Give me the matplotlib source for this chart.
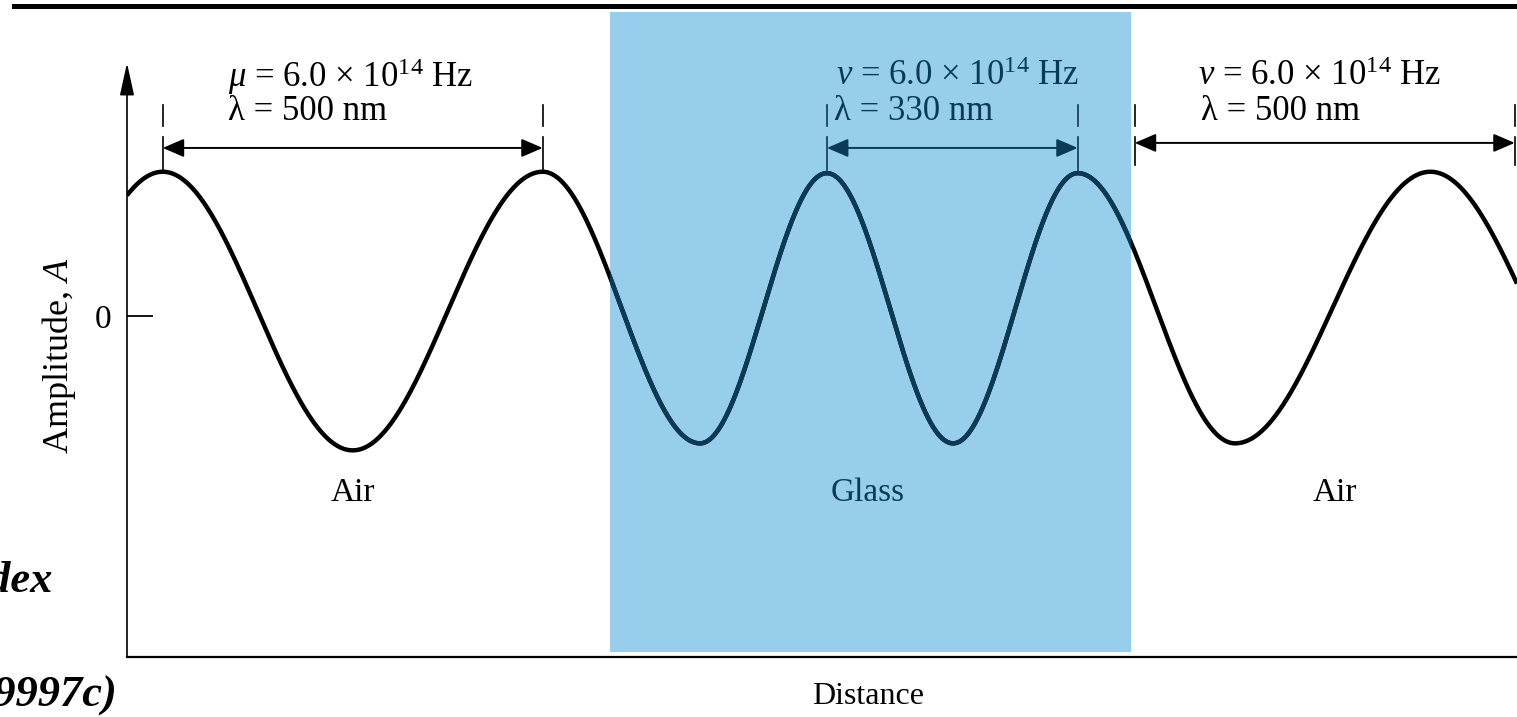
import numpy as np
import matplotlib
matplotlib.use("Agg")
import matplotlib.pyplot as plt
from matplotlib.patches import Rectangle
from matplotlib.lines import Line2D

# Crests / troughs of the wave (distance in nm, amplitude)
crest_x = [47, 297, 547, 754, 921, 1087, 1251, 1458, 1715]
crest_a = [1.03, -0.96, 1.03, -0.91, 1.02, -0.91, 1.02, -0.91, 1.03]

# Glass slab
glass_span = [636, 1321]

# Regions
region_names = ["Air", "Glass", "Air"]
freq_labels = [r"$\mu$ = 6.0 × 10$^{14}$ Hz",
               r"$\nu$ = 6.0 × 10$^{14}$ Hz",
               r"$\nu$ = 6.0 × 10$^{14}$ Hz"]
lambda_labels = ["λ = 500 nm", "λ = 330 nm", "λ = 500 nm"]
wavelengths = [500, 330, 500]
arrow_start = [47, 921, 1326]

# Layout (positions of labels etc.)
xmax = 1829
ylim = (-2.436, 2.171)
region_label_x = [297, 975, 1589]
freq_x = [133, 933, 1409]
lam_x = [133, 930, 1413]
marker_bottom = [1.03, 1.02, 1.08]
arrow_y = [1.2, 1.2, 1.236]

navy = "#0b3a56"
blue = "#97ceec"
colors = ["black", navy, "black"]

plt.rcParams["font.family"] = "Liberation Serif"
plt.rcParams["mathtext.fontset"] = "custom"
plt.rcParams["mathtext.rm"] = "Liberation Serif"
plt.rcParams["mathtext.it"] = "Liberation Serif:italic"
plt.rcParams["mathtext.bf"] = "Liberation Serif:bold"

W, H = 1517, 717
fig = plt.figure(figsize=(W / 100, H / 100), dpi=100)
ax = fig.add_axes([127 / W, (H - 657) / H, (W - 127) / W, (657 - 12) / H])
ax.set_xlim(0, xmax)
ax.set_ylim(*ylim)

# Glass block
rect = Rectangle((glass_span[0], -2.40), glass_span[1] - glass_span[0],
                 ylim[1] + 2.40, facecolor=blue, edgecolor="none", zorder=0)
ax.add_patch(rect)

# The wave: half-cosine between successive crests/troughs
x = np.linspace(0, xmax, 3000)
cx = np.array(crest_x, dtype=float)
ca = np.array(crest_a)
idx = np.clip(np.searchsorted(cx, x) - 1, 0, len(cx) - 2)
t = (x - cx[idx]) / (cx[idx + 1] - cx[idx])
amp = (ca[idx] + ca[idx + 1]) / 2 + (ca[idx] - ca[idx + 1]) / 2 * np.cos(np.pi * t)

ax.plot(x, amp, color="black", lw=3.2, zorder=2, solid_capstyle="butt")
inner, = ax.plot(x, amp, color=navy, lw=3.2, zorder=3, solid_capstyle="butt")
inner.set_clip_path(rect)

# Wavelength markers, arrows and labels
for i in range(3):
    c = colors[i]
    x0 = arrow_start[i]
    x1 = x0 + wavelengths[i]
    for xe in (x0, x1):
        ax.plot([xe, xe], [1.355, 1.51], color=c, lw=1.2, zorder=4, clip_on=False)
        ax.plot([xe, xe], [marker_bottom[i], 1.28], color=c, lw=1.2, zorder=4, clip_on=False)
    ax.annotate("", xy=(x1, arrow_y[i]), xytext=(x0, arrow_y[i]),
                arrowprops=dict(arrowstyle="<|-|>,head_length=0.65,head_width=0.28",
                                color=c, lw=1.4, mutation_scale=20,
                                shrinkA=0, shrinkB=0),
                annotation_clip=False, zorder=4)
    ax.text(freq_x[i], 1.71, freq_labels[i], fontsize=25, color=c,
            ha="left", va="center", zorder=5)
    ax.text(lam_x[i], 1.46, lambda_labels[i], fontsize=25, color=c,
            ha="left", va="center", zorder=5)
    ax.text(region_label_x[i], -1.26, region_names[i], fontsize=24, color=c,
            ha="center", va="center", zorder=5)

# Axes styling
for s in ["top", "right", "left"]:
    ax.spines[s].set_visible(False)
ax.spines["bottom"].set_linewidth(1.6)
ax.set_xticks([])
ax.set_yticks([0])
ax.set_yticklabels(["0"])
ax.tick_params(axis="y", direction="in", length=18.5, width=1.3, pad=11, labelsize=24)

# y axis with arrow head
ax.annotate("", xy=(0, 1.807), xytext=(0, ylim[0]),
            arrowprops=dict(arrowstyle="-|>,head_length=1.0,head_width=0.22",
                            color="black", lw=1.2, mutation_scale=20,
                            shrinkA=0, shrinkB=0),
            annotation_clip=False, zorder=5)

ax.set_xlabel("Distance", fontsize=23, va="center")
ax.xaxis.set_label_coords(0.533, -0.062)
ax.set_ylabel("Amplitude, $A$", fontsize=26, va="center")
ax.yaxis.set_label_coords(-0.049, 0.468)

# Top rule and text fragments from the slide
fig.add_artist(Line2D([14 / W, 1], [1 - 5.5 / H] * 2, transform=fig.transFigure,
                      color="black", lw=3.6))
fig.text(53 / W, 1 - 592 / H, "Index", fontsize=32, fontweight="bold",
         fontstyle="italic", ha="right", va="baseline")
fig.text(118 / W, 1 - 707 / H, "(0.9997c)", fontsize=32, fontweight="bold",
         fontstyle="italic", ha="right", va="baseline")

fig.savefig("out.png", dpi=100)
